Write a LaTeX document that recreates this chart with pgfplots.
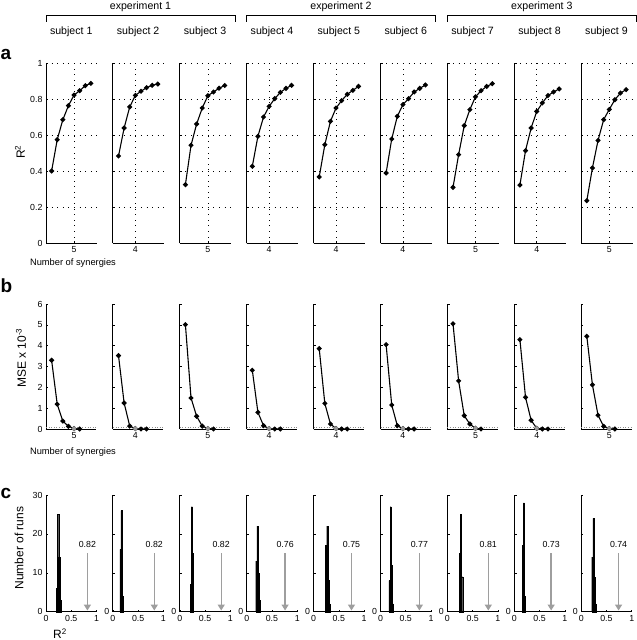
\documentclass[border=0pt]{standalone}
\usepackage{fontspec}
\setmainfont{Liberation Sans}
\usepackage{pgfplots}
\pgfplotsset{compat=1.18}
\usetikzlibrary{arrows.meta}

\pgfplotsset{
 base/.style={scale only axis, width=50.5pt, anchor=south west,
   axis x line*=bottom, axis y line*=left,
   axis line style={line width=0.9pt, -},
   tick align=inside, major tick length=2.2pt,
   every tick/.style={black, line width=0.6pt},
   tick label style={font=\fontsize{8.8}{10}\selectfont},
   /pgf/number format/assume math mode=true,
   clip=false},
 pa/.style={base, height=180pt, xmin=0, xmax=9, ymin=0, ymax=1,
   ytick={0,0.2,0.4,0.6,0.8,1}, xmajorgrids, ymajorgrids,
   major grid style={black, line width=0.7pt, dash pattern=on 0.8pt off 4.8pt}},
 pb/.style={base, height=125pt, xmin=0, xmax=9, ymin=0, ymax=6, ytick={0,1,2,3,4,5,6}},
 pc/.style={base, height=116.7pt, xmin=0, xmax=1, ymin=0, ymax=30,
   xtick={0,0.5,1}, xticklabels={0,0.5,1}, ytick={0,10,20,30}},
 noy/.style={yticklabel style={opacity=0}},
 curve/.style={black, line width=1.1pt, mark=*, mark size=1.9pt},
 thr/.style={black!45, line width=0.8pt, dash pattern=on 1pt off 1.6pt},
 sel/.style={only marks, mark=*, mark size=2pt, draw=black!45, fill=black!40},
 hist/.style={ybar, bar width=0.022, fill=black, draw=black, line width=0.2pt},
 arr/.style={black!38, line width=1.4pt, -{Triangle[width=7pt,length=6pt]}},
}
\tikzset{lab/.style={font=\fontsize{8.8}{10}\selectfont, anchor=base}}

\newcommand{\Apanel}[4]{%
\begin{axis}[pa, at={(#1pt,397pt)}, xtick={#2}, #4]
\addplot[curve] coordinates {#3};
\end{axis}}

\newcommand{\Bpanel}[5]{%
\begin{axis}[pb, at={(#1pt,211pt)}, xtick={#2}, #5]
\addplot[thr] coordinates {(0,0.1) (9,0.1)};
\addplot[curve] coordinates {#3};
\addplot[sel] coordinates {#4};
\end{axis}}

\newcommand{\Cpanel}[5]{%
\begin{axis}[pc, at={(#1pt,28.3pt)}, #5]
\addplot[hist] coordinates {#2};
\addplot[arr] coordinates {(#3,15) (#3,0.3)};
\node[lab] at (axis cs:#3,16.4) {#4};
\end{axis}}

\begin{document}
\begin{tikzpicture}
\path[use as bounding box] (0pt,0pt) rectangle (637pt,640pt);

% ---------------- panel a ----------------
\Apanel{46}{5}{(1,0.40)(2,0.574)(3,0.685)(4,0.763)(5,0.822)(6,0.846)(7,0.874)(8,0.887)}{yticklabels={0,0.2,0.4,0.6,0.8,1}}
\Apanel{112.9}{4}{(1,0.483)(2,0.639)(3,0.756)(4,0.820)(5,0.843)(6,0.863)(7,0.876)(8,0.883)}{noy}
\Apanel{179.8}{5}{(1,0.324)(2,0.543)(3,0.661)(4,0.750)(5,0.818)(6,0.839)(7,0.860)(8,0.875)}{noy}
\Apanel{246.7}{4}{(1,0.426)(2,0.593)(3,0.700)(4,0.759)(5,0.802)(6,0.837)(7,0.859)(8,0.876)}{noy}
\Apanel{313.6}{4}{(1,0.367)(2,0.546)(3,0.676)(4,0.750)(5,0.791)(6,0.826)(7,0.848)(8,0.870)}{noy}
\Apanel{380.5}{4}{(1,0.389)(2,0.578)(3,0.704)(4,0.769)(5,0.802)(6,0.839)(7,0.859)(8,0.878)}{noy}
\Apanel{447.4}{5}{(1,0.309)(2,0.491)(3,0.652)(4,0.741)(5,0.812)(6,0.846)(7,0.870)(8,0.885)}{noy}
\Apanel{514.3}{4}{(1,0.322)(2,0.513)(3,0.639)(4,0.731)(5,0.778)(6,0.819)(7,0.839)(8,0.856)}{noy}
\Apanel{581.2}{5}{(1,0.235)(2,0.417)(3,0.570)(4,0.685)(5,0.742)(6,0.796)(7,0.833)(8,0.852)}{noy}

% ---------------- panel b ----------------
\Bpanel{46}{5}{(1,3.30)(2,1.19)(3,0.38)(4,0.13)(5,0.02)(6,0.0)}{(5,0.02)}{yticklabels={0,1,2,3,4,5,6}}
\Bpanel{112.9}{4}{(1,3.52)(2,1.25)(3,0.14)(4,0.02)(5,0.0)(6,0.0)}{(4,0.02)}{noy}
\Bpanel{179.8}{5}{(1,5.01)(2,1.49)(3,0.61)(4,0.14)(5,0.02)(6,0.0)}{(5,0.02)}{noy}
\Bpanel{246.7}{4}{(1,2.82)(2,0.80)(3,0.16)(4,0.02)(5,0.0)(6,0.0)}{(4,0.02)}{noy}
\Bpanel{313.6}{4}{(1,3.86)(2,1.23)(3,0.24)(4,0.02)(5,0.0)(6,0.0)}{(4,0.02)}{noy}
\Bpanel{380.5}{4}{(1,4.05)(2,1.15)(3,0.16)(4,0.02)(5,0.0)(6,0.0)}{(4,0.02)}{noy}
\Bpanel{447.4}{5}{(1,5.05)(2,2.31)(3,0.64)(4,0.24)(5,0.03)(6,0.0)}{(5,0.03)}{noy}
\Bpanel{514.3}{4}{(1,4.29)(2,1.52)(3,0.42)(4,0.03)(5,0.0)(6,0.0)}{(4,0.03)}{noy}
\Bpanel{581.2}{5}{(1,4.45)(2,2.12)(3,0.66)(4,0.13)(5,0.02)(6,0.0)}{(5,0.02)}{noy}

% ---------------- panel c ----------------
\Cpanel{46}{(0.218,6)(0.24,25)(0.262,14)(0.284,3)}{0.82}{0.82}{yticklabels={0,10,20,30}}
\Cpanel{112.9}{(0.148,16)(0.17,26)(0.192,4)}{0.82}{0.82}{yticklabels={0,{},{},{}}}
\Cpanel{179.8}{(0.218,7)(0.24,27)(0.262,15)}{0.82}{0.82}{yticklabels={0,{},{},{}}}
\Cpanel{246.7}{(0.188,13)(0.21,22)(0.232,10)(0.254,3)}{0.76}{0.76}{yticklabels={0,{},{},{}}}
\Cpanel{313.6}{(0.248,17)(0.27,22)(0.292,8)(0.314,2)}{0.75}{0.75}{yticklabels={0,{},{},{}}}
\Cpanel{380.5}{(0.178,8)(0.2,27)(0.222,12)(0.244,2)}{0.77}{0.77}{yticklabels={0,{},{},{}}}
\Cpanel{447.4}{(0.248,15)(0.27,25)(0.292,9)}{0.81}{0.81}{yticklabels={0,{},{},{}}}
\Cpanel{514.3}{(0.168,17)(0.19,28)(0.212,4)}{0.73}{0.73}{yticklabels={0,{},{},{}}}
\Cpanel{581.2}{(0.218,14)(0.24,24)(0.262,9)(0.284,2)}{0.74}{0.74}{yticklabels={0,{},{},{}}}

% ---------------- header ----------------
\begin{scope}[font=\fontsize{10.6}{12}\selectfont]
\node[anchor=base] at (140.5pt,630.7pt) {experiment 1};
\node[anchor=base] at (341pt,630.7pt) {experiment 2};
\node[anchor=base] at (541.8pt,630.7pt) {experiment 3};
\foreach \xx/\nn in {71.25/1,138.15/2,205.05/3,271.95/4,338.85/5,405.75/6,472.65/7,539.55/8,606.45/9}
  \node[anchor=base] at (\xx pt,605pt) {subject \nn};
\end{scope}
\draw[line width=0.9pt] (46pt,618.3pt) -- (46pt,624.3pt) -- (235pt,624.3pt) -- (235pt,618.3pt);
\draw[line width=0.9pt] (246.7pt,618.3pt) -- (246.7pt,624.3pt) -- (435.5pt,624.3pt) -- (435.5pt,618.3pt);
\draw[line width=0.9pt] (447.4pt,618.3pt) -- (447.4pt,624.3pt) -- (636.2pt,624.3pt) -- (636.2pt,618.3pt);

% ---------------- panel letters ----------------
\begin{scope}[font=\bfseries\fontsize{19}{20}\selectfont]
\node[anchor=base west, inner sep=0pt] at (0.5pt,580pt) {a};
\node[anchor=base west, inner sep=0pt] at (0.5pt,347pt) {b};
\node[anchor=base west, inner sep=0pt] at (0.5pt,141.7pt) {c};
\end{scope}

% ---------------- axis labels ----------------
\begin{scope}[font=\fontsize{12}{14}\selectfont]
\node[rotate=90] at (20pt,488pt) {R\textsuperscript{2}};
\node[rotate=90] at (21pt,282pt) {MSE x 10\textsuperscript{-3}};
\node[rotate=90] at (19pt,92pt) {Number of runs};
\node[anchor=base] at (60pt,1.5pt) {R\textsuperscript{2}};
\end{scope}
\begin{scope}[font=\fontsize{9.3}{11}\selectfont]
\node[anchor=base] at (73pt,374.5pt) {Number of synergies};
\node[anchor=base] at (73pt,185pt) {Number of synergies};
\end{scope}
\end{tikzpicture}
\end{document}
